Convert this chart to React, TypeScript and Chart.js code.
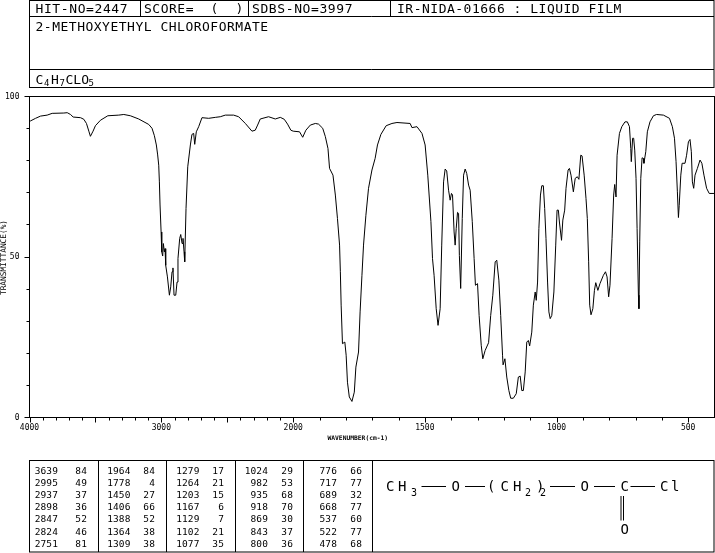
import React, { useEffect, useRef } from "react";
import { Chart, LinearScale, registerables } from "chart.js";

const wavenumbers = [4000,3992,3954,3916,3866,3828,3740,3714,3689,3669,3613,3588,3568,3550,3538,3518,3500,3462,3406,3323,3285,3235,3172,3096,3071,3053,3038,3028,3020,3015,3010,3002,2997,2990,2985,2977,2972,2967,2954,2939,2929,2919,2912,2904,2891,2881,2874,2861,2853,2843,2836,2828,2823,2813,2800,2780,2768,2755,2747,2735,2717,2692,2641,2591,2553,2515,2452,2414,2363,2313,2288,2270,2250,2187,2136,2098,2068,2043,2018,2000,1976,1964,1952,1935,1916,1904,1888,1878,1868,1862,1849,1840,1832,1824,1821,1818,1813,1804,1799,1794,1787,1777,1768,1762,1752,1746,1739,1733,1724,1714,1701,1689,1680,1667,1647,1625,1606,1556,1549,1530,1511,1499,1489,1477,1471,1465,1457,1450,1442,1436,1429,1423,1417,1410,1404,1399,1395,1389,1385,1381,1376,1372,1369,1364,1358,1353,1347,1341,1334,1328,1320,1313,1308,1300,1294,1286,1280,1271,1258,1250,1242,1233,1227,1219,1212,1205,1203,1196,1189,1181,1174,1164,1153,1145,1138,1132,1126,1119,1113,1107,1102,1094,1088,1081,1077,1072,1067,1061,1056,1050,1045,1040,1034,1029,1024,1018,1010,1003,998,993,989,981,976,969,964,956,951,945,936,929,921,915,908,903,895,888,883,878,874,869,862,856,851,843,835,822,814,808,802,797,789,783,779,774,770,761,752,740,731,723,718,716,711,707,703,698,694,689,687,684,680,675,670,668,661,655,645,632,620,594,571,560,552,546,541,537,534,528,523,512,506,499,493,488,484,479,474,465,455,448,440,430,420,402];
const transmittance = [92.2,92.4,93.2,93.9,94.2,94.75,94.85,94.96,94.4,93.6,93.4,92.9,91.6,89.2,87.6,89.2,90.9,92.6,94,94.2,94.4,94,93,91.3,90.1,87.8,84.9,81.8,78.6,73.4,66.2,57.8,51.6,50.3,54.2,51.6,52.6,47.4,43.8,38.1,40.7,45.4,46.6,38.1,38.1,42.2,49.5,55.8,57,54.2,55.8,51.6,48.5,65.1,78.1,84.9,88.2,88.5,85.1,89,90.6,93.4,93.2,93.5,93.7,94.2,94.2,93.7,91.6,89.2,89.5,91.1,93,93.7,93,93.5,92.9,91.4,89.5,89.2,89,87.3,89.5,91.1,91.6,91.4,90.1,87.5,83.8,77.6,75.5,69.3,62,53.7,45.4,35,23,23.5,19.4,11,6.4,5,7.9,15.7,20.4,32.9,44.3,53.7,63,71.4,77.1,80.7,84.9,88.2,90.9,91.6,91.9,91.6,90.3,90.6,88.5,84.9,75.5,61,49.5,44.3,33.9,28.7,33.9,53.7,73.4,77.4,76.8,70.8,67.7,69.8,69.3,57.8,53.7,58.9,63.9,63.6,50.5,40.2,62,75.5,77.4,76,72.4,70.8,61,49.5,41.2,41.7,31.8,22.5,18.3,20.9,23.3,31.8,38.1,48.5,49,42.8,31.8,19.4,16.4,18.3,12.6,8.4,6,6,7.4,12.6,12.9,8.4,8.4,14.2,23.5,24,22.3,26.6,35,39.1,36.5,42.2,58.9,69.3,72.2,72.2,65.1,55.8,42.2,32.9,30.8,31.8,39.1,53.7,64.6,64.6,60.9,55.2,61.5,64.6,71.4,77.1,77.6,75.5,70.3,74.5,75,74.2,81.7,81.5,75.5,68.2,62,48.5,35,32,33.9,39.6,42,39.6,41.7,44.3,45.4,43.8,37.6,41.2,55.8,69.3,72.6,68.7,81.7,88.5,90.6,92.1,92.1,90.6,83.8,79.7,87,87,83.3,74.5,58.9,38.1,33.9,54.7,74.5,80.9,80.7,79.2,82.8,89,92.1,94,94.4,94.2,93.2,90.6,87,79.7,70.3,62.3,66.1,75.5,79.2,79.2,81.7,85.9,86.6,82.8,73.4,71.4,75.5,77.6,80.2,79.2,75.5,71.4,69.8,69.8];

const xMajorTicks = [4000, 3000, 2000, 1500, 1000, 500];
const xMidTicks = [3500, 2500];
const xMinorTicks = [3900,3800,3700,3600,3400,3300,3200,3100,2900,2800,2700,2600,2400,2300,2200,2100,1900,1800,1700,1600,1400,1300,1200,1100,900,800,700,600,400];
const yLabelledTicks = [0, 50, 100];
const yTicks = [0,10,20,30,40,50,60,70,80,90,100];

const hitNo = "HIT-NO=2447";
const score = "SCORE=  (  )";
const sdbsNo = "SDBS-NO=3997";
const source = "IR-NIDA-01666 : LIQUID FILM";
const compound = "2-METHOXYETHYL CHLOROFORMATE";
const xTitle = "WAVENUMBER(cm-1)";
const yTitle = "TRANSMITTANCE(%)";

const peakWave = [
  ["3639","2995","2937","2898","2847","2824","2751"],
  ["1964","1778","1450","1406","1388","1364","1309"],
  ["1279","1264","1203","1167","1129","1102","1077"],
  ["1024","982","935","918","869","843","800"],
  ["776","717","689","668","537","522","478"],
];
const peakT = [
  ["84","49","37","36","52","46","81"],
  ["84","4","27","66","52","38","38"],
  ["17","21","15","6","7","21","35"],
  ["29","53","68","70","30","37","36"],
  ["66","77","32","77","60","77","68"],
];

class IrScale extends LinearScale {
  static id = "irwave";
  static defaults = LinearScale.defaults;
  getPixelForValue(w: number) {
    const split = 0.385;
    const f = w >= 2000 ? ((4000 - w) / 2000) * split : split + ((2000 - w) / 1600) * (1 - split);
    return this.left + f * this.width;
  }
}
Chart.register(...registerables, IrScale);

const MONO = '"DejaVu Sans Mono"';

function text(ctx: CanvasRenderingContext2D, s: string, x: number, y: number, size: number, align: CanvasTextAlign = "left", spacing = 0, weight = "normal") {
  ctx.font = `${weight} ${size}px ${MONO}`;
  (ctx as any).letterSpacing = `${spacing}px`;
  ctx.textAlign = align;
  ctx.textBaseline = "alphabetic";
  ctx.fillText(s, x, y);
  (ctx as any).letterSpacing = "0px";
}

function seg(ctx: CanvasRenderingContext2D, x1: number, y1: number, x2: number, y2: number) {
  ctx.beginPath();
  ctx.moveTo(x1, y1);
  ctx.lineTo(x2, y2);
  ctx.stroke();
}

const decor = {
  id: "decor",
  beforeDraw(chart: any) {
    const c: CanvasRenderingContext2D = chart.ctx;
    c.save();
    c.fillStyle = "#fff";
    c.fillRect(0, 0, 715, 553);
    c.restore();
  },
  afterDraw(chart: any) {
    const c: CanvasRenderingContext2D = chart.ctx;
    const a = chart.chartArea;
    const xs = chart.scales.x;
    const ys = chart.scales.y;
    c.save();
    c.strokeStyle = "#000";
    c.fillStyle = "#000";
    c.lineWidth = 1;
    // plot frame and tick marks
    c.strokeRect(a.left, a.top, a.right - a.left, a.bottom - a.top);
    for (const w of xMajorTicks) { const p = Math.round(xs.getPixelForValue(w)) + 0.5; seg(c, p, a.bottom, p, a.bottom + 5); }
    for (const w of xMidTicks) { const p = Math.round(xs.getPixelForValue(w)) + 0.5; seg(c, p, a.bottom, p, a.bottom + 5); }
    for (const w of xMinorTicks) { const p = Math.round(xs.getPixelForValue(w)) + 0.5; seg(c, p, a.bottom, p, a.bottom + 3); }
    for (const t of yTicks) {
      const p = Math.round(ys.getPixelForValue(t) - 0.5) + 0.5;
      seg(c, a.left - (yLabelledTicks.includes(t) ? 5 : 3), p, a.left, p);
    }
    // axis titles
    text(c, xTitle, 327.5, 440, 6.3, "left", 0, "bold");
    c.save();
    c.translate(6, 257.5);
    c.rotate(-Math.PI / 2);
    text(c, yTitle, 0, 0, 7.8, "center");
    c.restore();
    // header block
    c.strokeRect(29.5, 0.5, 684.5, 87);
    seg(c, 29.5, 16.5, 714, 16.5);
    seg(c, 29.5, 69.5, 714, 69.5);
    seg(c, 140.5, 0.5, 140.5, 16.5);
    seg(c, 248.5, 0.5, 248.5, 16.5);
    seg(c, 390.5, 0.5, 390.5, 16.5);
    text(c, hitNo, 35.5, 13, 13, "left", 0.6);
    text(c, score, 144, 13, 13, "left", 0.5);
    text(c, sdbsNo, 252, 13, 13, "left", 0.6);
    text(c, source, 397, 13, 13, "left", 0.5);
    text(c, compound, 35.5, 31, 13, "left", 0.5);
    text(c, "C", 35.5, 84, 13);
    text(c, "4", 44, 86, 9);
    text(c, "H", 51, 84, 13);
    text(c, "7", 59.5, 86, 9);
    text(c, "CLO", 65.5, 84, 13);
    text(c, "5", 88.5, 86, 9);
    // peak table
    c.strokeRect(29.5, 460.5, 684.5, 91.5);
    const seps = [98.5, 166.5, 235.5, 303.5, 372.5];
    seps.forEach((x) => seg(c, x, 460.5, x, 552));
    const waveRight = [58, 130.5, 199.5, 268, 337];
    const tRight = [87, 155, 224, 293, 362];
    peakWave.forEach((col, i) => col.forEach((w, r) => {
      const y = 473.5 + r * 12.2;
      text(c, w, waveRight[i], y, 9.5, "right", 0.1);
      text(c, peakT[i][r], tRight[i], y, 9.5, "right", 0.1);
    }));
    // structure
    const s = 14;
    text(c, "C", 386, 491, s);
    text(c, "H", 398, 491, s);
    text(c, "3", 411, 496, 10);
    seg(c, 421.5, 486.5, 446, 486.5);
    text(c, "O", 451.5, 491, s);
    seg(c, 465, 486.5, 485, 486.5);
    text(c, "(", 487, 491, s);
    text(c, "C", 500.5, 491, s);
    text(c, "H", 513, 491, s);
    text(c, "2", 525, 496, 10);
    text(c, ")", 536, 491, s);
    text(c, "2", 540, 496, 10);
    seg(c, 550, 486.5, 575, 486.5);
    text(c, "O", 580.5, 491, s);
    seg(c, 594, 486.5, 615, 486.5);
    text(c, "C", 620.5, 491, s);
    seg(c, 630.5, 486.5, 655, 486.5);
    text(c, "C", 660, 491, s);
    text(c, "l", 671, 491, s);
    seg(c, 621, 496, 621, 520.5);
    seg(c, 623.5, 496, 623.5, 520.5);
    text(c, "O", 620.5, 534, s);
    c.restore();
  },
};

export default function App() {
  const ref = useRef<HTMLCanvasElement>(null);
  useEffect(() => {
    const chart = new Chart(ref.current!, {
      type: "line",
      data: {
        datasets: [{
          data: wavenumbers.map((w, i) => ({ x: w, y: transmittance[i] })),
          borderColor: "#000",
          borderWidth: 1,
          pointRadius: 0,
          tension: 0,
          fill: false,
        }],
      },
      options: {
        animation: false,
        responsive: false,
        devicePixelRatio: 1,
        layout: { padding: { left: 0, top: 96.5, right: 0.5, bottom: 115.5 } },
        plugins: { legend: { display: false }, tooltip: { enabled: false } },
        scales: {
          x: {
            type: "irwave",
            min: 400,
            max: 4000,
            border: { display: false },
            grid: { display: false, drawTicks: false },
            afterBuildTicks: (s: any) => { s.ticks = xMajorTicks.map((value) => ({ value })); },
            afterFit: (s: any) => { s.height = 20; },
            ticks: {
              autoSkip: false,
              maxRotation: 0,
              minRotation: 0,
              padding: 6,
              color: "#000",
              font: { family: MONO, size: 8 },
              callback: (v: any) => String(v),
            },
          },
          y: {
            min: 0,
            max: 100,
            border: { display: false },
            grid: { display: false, drawTicks: false },
            afterBuildTicks: (s: any) => { s.ticks = yLabelledTicks.map((value) => ({ value })); },
            afterFit: (s: any) => { s.width = 29.5; },
            ticks: {
              autoSkip: false,
              padding: 10,
              color: "#000",
              font: { family: MONO, size: 8 },
              callback: (v: any) => String(v),
            },
          },
        } as any,
      } as any,
      plugins: [decor],
    } as any);
    return () => chart.destroy();
  }, []);
  return (
    <canvas
      ref={ref}
      width={715}
      height={553}
      style={{ position: "fixed", left: 0, top: 0, display: "block", width: 715, height: 553 }}
    />
  );
}
